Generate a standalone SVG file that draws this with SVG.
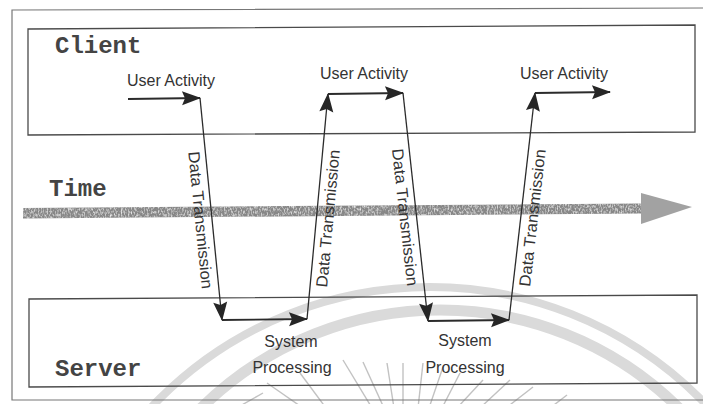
<svg xmlns="http://www.w3.org/2000/svg" width="703" height="404" viewBox="0 0 703 404">
  <style>
    .box { fill: none; stroke: #4a4a4a; stroke-width: 1.3; }
    .title { font-family: "Liberation Mono", "Courier New", monospace; font-size: 24px; font-weight: bold; fill: #444; }
    .lbl { font-family: "Liberation Sans", Arial, sans-serif; font-size: 16px; fill: #333; }
    .hop { stroke: #2b2b2b; stroke-width: 1.9; fill: none; marker-end: url(#head); }
    .wire { stroke: #2b2b2b; stroke-width: 1.3; fill: none; marker-end: url(#head); }
    .arc { fill: none; stroke: #dadada; }
    .ray { stroke: #c2c2c2; stroke-width: 1.4; }
  </style>
  <defs>
    <marker id="head" markerUnits="userSpaceOnUse" markerWidth="22" markerHeight="16" refX="18" refY="7" orient="auto" overflow="visible">
      <path d="M0,0 L19,7 L0,14 L3,7 Z" fill="#262626"/>
    </marker>
    <!-- light speckle over the time bar -->
    <filter id="grain" x="0" y="0" width="1" height="1">
      <feTurbulence type="fractalNoise" baseFrequency="0.7 0.35" numOctaves="2" seed="4" result="noise"/>
      <feColorMatrix in="noise" type="matrix" values="0 0 0 0 1  0 0 0 0 1  0 0 0 0 1  0 0 0 1.8 -0.8" result="spots"/>
      <feComposite in="spots" in2="SourceGraphic" operator="in" result="mask"/>
      <feMerge><feMergeNode in="SourceGraphic"/><feMergeNode in="mask"/></feMerge>
    </filter>
  </defs>

  <rect width="703" height="404" fill="#ffffff"/>

  <!-- background emblem: two arcs and a fan of rays -->
  <g id="emblem">
    <circle class="arc" cx="430" cy="670" r="383" stroke-width="8"/>
    <circle class="arc" cx="440" cy="650" r="340" stroke-width="11"/>
    <line class="ray" x1="263" y1="393" x2="233" y2="410"/>
    <line class="ray" x1="267" y1="383" x2="303" y2="408"/>
    <line class="ray" x1="300" y1="373" x2="326" y2="408"/>
    <line class="ray" x1="343" y1="360" x2="372" y2="408"/>
    <line class="ray" x1="363" y1="362" x2="384" y2="408"/>
    <line class="ray" x1="387" y1="363" x2="394" y2="408"/>
    <line class="ray" x1="403" y1="363" x2="403" y2="408"/>
    <line class="ray" x1="423" y1="363" x2="418" y2="408"/>
    <line class="ray" x1="443" y1="367" x2="429" y2="408"/>
    <line class="ray" x1="460" y1="373" x2="442" y2="408"/>
    <line class="ray" x1="483" y1="380" x2="457" y2="408"/>
    <line class="ray" x1="510" y1="380" x2="480" y2="408"/>
    <line class="ray" x1="533" y1="387" x2="506" y2="408"/>
    <line class="ray" x1="567" y1="395" x2="550" y2="408"/>
  </g>

  <!-- outer frame (right edge runs off the sheet) -->
  <path id="frame" d="M703,8 L12,10 L12,400 L703,400" fill="none" stroke="#777" stroke-width="1.2"/>

  <!-- time axis -->
  <g id="time">
    <path d="M23,208 L641,203.5 L641,213.5 L23,218.5 Z" fill="#878787" filter="url(#grain)"/>
    <path d="M641,193 L692,207 L641,224 Z" fill="#a2a2a2"/>
    <text class="title" x="49" y="196">Time</text>
  </g>

  <g id="client">
    <path class="box" d="M28,29 L695,25 L695,132 L28,135 Z"/>
    <text class="title" x="55" y="53">Client</text>
    <text class="lbl" x="127" y="86">User Activity</text>
    <text class="lbl" x="320" y="79">User Activity</text>
    <text class="lbl" x="520" y="79">User Activity</text>
  </g>

  <g id="server">
    <path class="box" d="M29,299 L697,295 L697,383 L29,387 Z"/>
    <text class="title" x="55" y="376">Server</text>
    <text class="lbl" x="291" y="347" text-anchor="middle">System</text>
    <text class="lbl" x="292" y="373" text-anchor="middle">Processing</text>
    <text class="lbl" x="465" y="346" text-anchor="middle">System</text>
    <text class="lbl" x="465" y="373" text-anchor="middle">Processing</text>
  </g>

  <g id="connectors">
    <line class="hop" x1="128" y1="99" x2="200" y2="98"/>
    <line class="wire" x1="200" y1="98" x2="222" y2="320"/>
    <line class="hop" x1="222" y1="320" x2="307" y2="319"/>
    <line class="wire" x1="307" y1="319" x2="328" y2="94"/>
    <line class="hop" x1="328" y1="94" x2="403" y2="93"/>
    <line class="wire" x1="403" y1="93" x2="428" y2="321"/>
    <line class="hop" x1="428" y1="321" x2="509" y2="320"/>
    <line class="wire" x1="509" y1="320" x2="535" y2="93"/>
    <line class="hop" x1="535" y1="93" x2="610" y2="92"/>

    <text class="lbl" transform="translate(212,219) rotate(84.3)" x="0" y="17" text-anchor="middle" textLength="138" lengthAdjust="spacingAndGlyphs">Data Transmission</text>
    <text class="lbl" transform="translate(316.5,217.5) rotate(-84.7)" x="0" y="17" text-anchor="middle" textLength="138" lengthAdjust="spacingAndGlyphs">Data Transmission</text>
    <text class="lbl" transform="translate(416.5,216) rotate(83.7)" x="0" y="17" text-anchor="middle" textLength="138" lengthAdjust="spacingAndGlyphs">Data Transmission</text>
    <text class="lbl" transform="translate(521,216.5) rotate(-83.5)" x="0" y="17" text-anchor="middle" textLength="138" lengthAdjust="spacingAndGlyphs">Data Transmission</text>
  </g>
</svg>
